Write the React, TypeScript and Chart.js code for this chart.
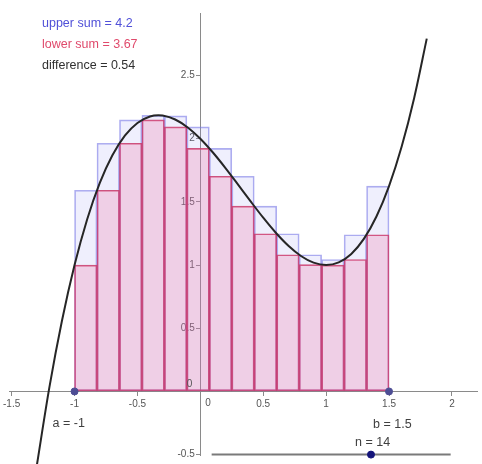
import { useEffect, useRef } from "react";
import { Chart, registerables } from "chart.js";

Chart.register(...registerables);

// Interval [a, b] split into n strips
const a = -1;
const b = 1.5;
const n = 14;

// Slider range for n
const nMin = 2;
const nMax = 20;

// Height of each strip: maximum (upper) and minimum (lower) of f on the strip
const upperHeights = [1.592, 1.964, 2.149, 2.185, 2.181, 2.094, 1.924, 1.703, 1.466, 1.248, 1.082, 1.044, 1.24, 1.625];
const lowerHeights = [1.0, 1.592, 1.964, 2.149, 2.094, 1.924, 1.703, 1.466, 1.248, 1.082, 1.003, 1.0, 1.044, 1.24];

// Sampled points of the curve f
const curveX = [-1.3, -1.2, -1.1, -1.0, -0.9, -0.8, -0.7, -0.6, -0.5, -0.4, -0.333, -0.3, -0.2, -0.1, 0, 0.1, 0.2, 0.3, 0.4, 0.5, 0.6, 0.7, 0.8, 0.9, 1.0, 1.1, 1.2, 1.3, 1.4, 1.5, 1.6, 1.7, 1.8];
const curveY = [-0.587, 0.032, 0.559, 1.0, 1.361, 1.648, 1.867, 2.024, 2.125, 2.176, 2.185, 2.183, 2.152, 2.089, 2.0, 1.891, 1.768, 1.637, 1.504, 1.375, 1.256, 1.153, 1.072, 1.019, 1.0, 1.021, 1.088, 1.207, 1.384, 1.625, 1.936, 2.323, 2.792];

// Readouts
const upperSumText = "upper sum = 4.2";
const lowerSumText = "lower sum = 3.67";
const differenceText = "difference = 0.54";

// Graphics view: origin position on the canvas and pixels per unit
const ORIGIN_X = 199;
const ORIGIN_Y = 391.5;
const UNIT_X = 126.4;
const UNIT_Y = 126.2;
const Y_TOP_LIMIT = 2.995;

// Slider track (graph units)
const sliderStart = 0.09;
const sliderEnd = 1.99;
const sliderY = -0.5;

const FONT = "'Liberation Sans', Arial, sans-serif";

export default function App() {
  const canvasRef = useRef<HTMLCanvasElement | null>(null);

  useEffect(() => {
    const canvas = canvasRef.current;
    if (!canvas) return;

    const dx = (b - a) / n;
    const centers = upperHeights.map((_, i) => a + (i + 0.5) * dx);
    const sliderX = sliderStart + ((n - nMin) / (nMax - nMin)) * (sliderEnd - sliderStart);

    const overlay = {
      id: "overlay",
      afterDatasetsDraw(chart: any) {
        const ctx = chart.ctx;
        const xs = chart.scales.x;
        const ys = chart.scales.y;
        const px0 = xs.getPixelForValue(0);
        const py0 = ys.getPixelForValue(0);
        ctx.save();
        // origin labels
        ctx.font = `10px ${FONT}`;
        ctx.fillStyle = "#555";
        ctx.textBaseline = "top";
        ctx.textAlign = "left";
        ctx.fillText("0", px0 + 5, py0 + 7);
        ctx.textAlign = "right";
        ctx.textBaseline = "middle";
        ctx.fillText("0", px0 - 8, py0 - 7);

        // readouts
        ctx.textAlign = "left";
        ctx.textBaseline = "middle";
        ctx.font = `12.5px ${FONT}`;
        ctx.fillStyle = "#5050d8";
        ctx.fillText(upperSumText, 42, 24);
        ctx.fillStyle = "#e04a6c";
        ctx.fillText(lowerSumText, 42, 45);
        ctx.fillStyle = "#303030";
        ctx.fillText(differenceText, 42, 66);

        // point / slider labels
        ctx.fillStyle = "#404040";
        ctx.font = `12.5px ${FONT}`;
        ctx.fillText(`a = ${a}`, xs.getPixelForValue(a) - 22, py0 + 32);
        ctx.fillText(`b = ${b}`, xs.getPixelForValue(b) - 16, py0 + 33);
        ctx.fillText(`n = ${n}`, xs.getPixelForValue(sliderX) - 16, ys.getPixelForValue(sliderY) - 12);
        ctx.restore();
      },
    };

    const axisCommon = {
      type: "linear" as const,
      offset: false,
      grid: {
        display: true,
        drawOnChartArea: false,
        drawTicks: true,
        tickLength: 4,
        color: "#8a8a8a",
        offset: false,
      },
      border: { display: true, color: "#8a8a8a", width: 1 },
    };

    const chart = new Chart(canvas, {
      type: "bar",
      data: {
        datasets: [
          {
            type: "scatter" as any,
            data: [{ x: sliderX, y: sliderY }],
            backgroundColor: "#14147a",
            borderColor: "#14147a",
            pointRadius: 3.5,
            clip: false,
            order: -2,
          },
          {
            type: "scatter" as any,
            data: [
              { x: a, y: 0 },
              { x: b, y: 0 },
            ],
            backgroundColor: "#4d4d94",
            borderColor: "#4d4d94",
            pointRadius: 3.5,
            order: -1,
          },
          {
            type: "line" as any,
            data: [
              { x: sliderStart, y: sliderY },
              { x: sliderEnd, y: sliderY },
            ],
            borderColor: "#7a7a7a",
            borderWidth: 2,
            pointRadius: 0,
            clip: false,
            order: 0,
          },
          {
            type: "line" as any,
            data: curveX.map((x, i) => ({ x, y: curveY[i] })),
            borderColor: "#262626",
            borderWidth: 2,
            pointRadius: 0,
            cubicInterpolationMode: "monotone",
            clip: false,
            order: 1,
          },
          {
            type: "bar",
            data: centers.map((x, i) => ({ x, y: lowerHeights[i] })) as any,
            backgroundColor: "rgba(242, 110, 160, 0.24)",
            borderColor: "rgba(200, 55, 105, 0.85)",
            borderWidth: 1,
            borderSkipped: false,
            grouped: false,
            barPercentage: 1,
            categoryPercentage: 1,
            order: 2,
          } as any,
          {
            type: "bar",
            data: centers.map((x, i) => ({ x, y: upperHeights[i] })) as any,
            backgroundColor: "rgba(130, 130, 240, 0.13)",
            borderColor: "rgba(120, 120, 230, 0.6)",
            borderWidth: 1,
            borderSkipped: false,
            grouped: false,
            barPercentage: 1,
            categoryPercentage: 1,
            order: 3,
          } as any,
        ],
      },
      options: {
        responsive: false,
        maintainAspectRatio: false,
        animation: false,
        events: [],
        layout: { padding: { top: 13, left: 0, right: 0, bottom: 0 } },
        plugins: { legend: { display: false }, tooltip: { enabled: false } },
        scales: {
          x: {
            ...axisCommon,
            position: { y: 0 } as any,
            min: -1.575,
            max: 2.238,
            ticks: {
              stepSize: 0.5,
              includeBounds: false,
              autoSkip: false,
              maxRotation: 0,
              padding: 3,
              color: "#555",
              font: { size: 10, family: FONT },
              callback: (v: any) => (Number(v) === 0 ? "" : String(Number(v))),
            },
          },
          y: {
            ...axisCommon,
            position: { x: 0 } as any,
            min: -0.574,
            max: Y_TOP_LIMIT,
            ticks: {
              stepSize: 0.5,
              includeBounds: false,
              autoSkip: false,
              color: "#555",
              font: { size: 10, family: FONT },
              // trailing spaces keep the labels clear of the axis line
              callback: (v: any) => (Number(v) === 0 ? "" : String(Number(v)) + "  "),
            },
          },
        } as any,
      },
      plugins: [overlay],
    });

    // Fit the scale ranges to the chart area so the origin and unit length stay fixed
    const fitView = () => {
      const area = chart.chartArea;
      const sx: any = (chart.options.scales as any).x;
      const sy: any = (chart.options.scales as any).y;
      sx.min = (area.left - ORIGIN_X) / UNIT_X;
      sx.max = (area.right - ORIGIN_X) / UNIT_X;
      sy.max = Math.min((ORIGIN_Y - area.top) / UNIT_Y, Y_TOP_LIMIT);
      sy.min = (ORIGIN_Y - area.bottom) / UNIT_Y;
      chart.update();
    };
    fitView();
    fitView();

    return () => chart.destroy();
  }, []);

  return (
    <div style={{ position: "fixed", left: 0, top: 0, width: 482, height: 464, background: "#fff" }}>
      <canvas ref={canvasRef} width={482} height={464} style={{ display: "block", width: 482, height: 464 }} />
    </div>
  );
}
